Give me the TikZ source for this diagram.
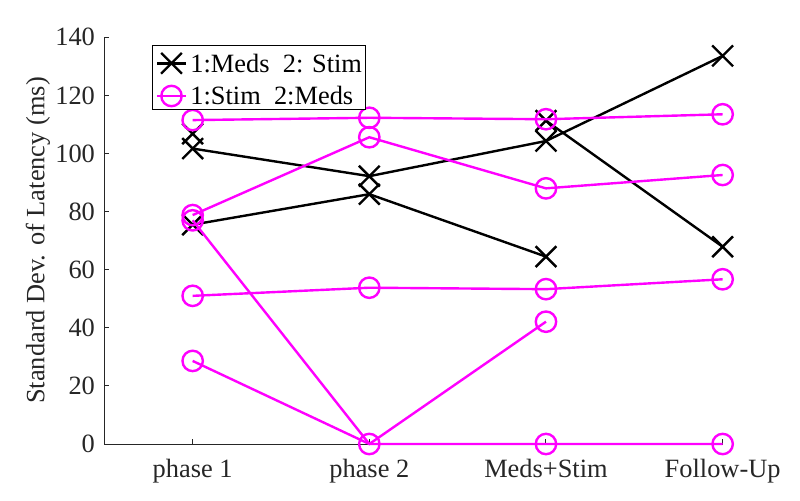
\documentclass[tikz,border=0pt]{standalone}
\usepackage{fontspec}
\setmainfont{Liberation Serif}
\usetikzlibrary{shapes.misc}
\definecolor{axgray}{HTML}{262626}
\definecolor{mag}{HTML}{FF00FF}
\begin{document}
\begin{tikzpicture}[font=\fontsize{13.2pt}{15pt}\selectfont,
  xm/.style={draw=black, cross out, minimum size=9.2pt, inner sep=0pt, line width=1.2pt},
  om/.style={draw=mag, circle, minimum size=10.2pt, inner sep=0pt, line width=1.2pt},
  blk/.style={black, line width=1.2pt},
  pnk/.style={mag, line width=1.2pt},
  ytick/.style={anchor=east, inner sep=0pt, text=axgray, xshift=-4.5pt},
  xtick/.style={anchor=base, inner sep=0pt, text=axgray, yshift=-16.8pt}]
\useasboundingbox (0,0) rectangle (400pt,250pt);
\begin{scope}[shift={(8pt,28pt)}, x=88.33pt, y=1.4525pt]
\draw [axgray, line width=0.5pt] (0.5,140) -- (0.5,0) -- (4,0);
\draw [axgray, line width=0.5pt] (0.5,0) -- ++(2.5pt,0) (0.5,20) -- ++(2.5pt,0) (0.5,40) -- ++(2.5pt,0) (0.5,60) -- ++(2.5pt,0);
\draw [axgray, line width=0.5pt] (0.5,80) -- ++(2.5pt,0) (0.5,100) -- ++(2.5pt,0) (0.5,120) -- ++(2.5pt,0) (0.5,140) -- ++(2.5pt,0);
\draw [axgray, line width=0.5pt] (1,0) -- ++(0,2.5pt) (2,0) -- ++(0,2.5pt) (3,0) -- ++(0,2.5pt) (4,0) -- ++(0,2.5pt);
\node[ytick] (y0) at (0.5,0) {0};
\node[ytick] (y20) at (0.5,20) {20};
\node[ytick] (y40) at (0.5,40) {40};
\node[ytick] (y60) at (0.5,60) {60};
\node[ytick] (y80) at (0.5,80) {80};
\node[ytick] (y100) at (0.5,100) {100};
\node[ytick] (y120) at (0.5,120) {120};
\node[ytick] (y140) at (0.5,140) {140};
\node[xtick] (p1) at (1,0) {phase 1};
\node[xtick] (p2) at (2,0) {phase 2};
\node[xtick] (p3) at (3,0) {Meds+Stim};
\node[xtick] (p4) at (4,0) {Follow-Up};
\node[xm] (a1) at (1,101.7) {};
\node[xm] (a2) at (2,92.2) {};
\node[xm] (a3) at (3,104.3) {};
\node[xm] (a4) at (4,133.6) {};
\node[xm] (b1) at (1,75.5) {};
\node[xm] (b2) at (2,86) {};
\node[xm] (b3) at (3,64.5) {};
\node[xm] (c1) at (1,106.8) {};
\node[xm] (c3) at (3,111.3) {};
\node[xm] (c4) at (4,67.9) {};
\draw [blk] (a1.center) -- (a2.center) -- (a3.center) -- (a4.center);
\draw [blk] (b1.center) -- (b2.center) -- (b3.center);
\draw [blk] (c3.center) -- (c4.center);
\node[om] (m1) at (1,111.5) {};
\node[om] (m2) at (2,112.3) {};
\node[om] (m3) at (3,111.8) {};
\node[om] (m4) at (4,113.5) {};
\node[om] (n1) at (1,78.8) {};
\node[om] (n2) at (2,105.6) {};
\node[om] (n3) at (3,88) {};
\node[om] (n4) at (4,92.6) {};
\node[om] (o1) at (1,77) {};
\node[om] (o2) at (2,0) {};
\node[om] (o3) at (3,0) {};
\node[om] (o4) at (4,0) {};
\node[om] (q1) at (1,28.6) {};
\node[om] (q3) at (3,42.1) {};
\node[om] (r1) at (1,51) {};
\node[om] (r2) at (2,53.8) {};
\node[om] (r3) at (3,53.3) {};
\node[om] (r4) at (4,56.7) {};
\draw [pnk] (m1.center) -- (m2.center) -- (m3.center) -- (m4.center);
\draw [pnk] (n1.center) -- (n2.center) -- (n3.center) -- (n4.center);
\draw [pnk] (o1.center) -- (o2.center) -- (o3.center) -- (o4.center);
\draw [pnk] (q1.center) -- (o2.center) -- (q3.center);
\draw [pnk] (r1.center) -- (r2.center) -- (r3.center) -- (r4.center);
\end{scope}
\node[rotate=90, text=axgray] (ylab) at (19pt,129.75pt) {Standard Dev. of Latency (ms)};
\node[draw=black, fill=white, line width=0.5pt, minimum width=106.5pt, minimum height=32.15pt, inner sep=0pt] (leg) at (129.6pt,211.1pt) {};
\coordinate (la) at (78.5pt,218.35pt);
\coordinate (lb) at (93pt,218.35pt);
\coordinate (lc) at (78.5pt,202pt);
\coordinate (ld) at (93pt,202pt);
\draw [blk] (la) -- (lb);
\draw [pnk] (lc) -- (ld);
\node[xm] (lx) at (85.75pt,218.35pt) {};
\node[om] (lo) at (85.75pt,202pt) {};
\node[anchor=west, inner sep=0pt] (lt1) at (95pt,218.35pt) {1:Meds\ \ 2: Stim};
\node[anchor=west, inner sep=0pt] (lt2) at (95pt,202pt) {1:Stim\ \ 2:Meds};
\end{tikzpicture}
\end{document}
